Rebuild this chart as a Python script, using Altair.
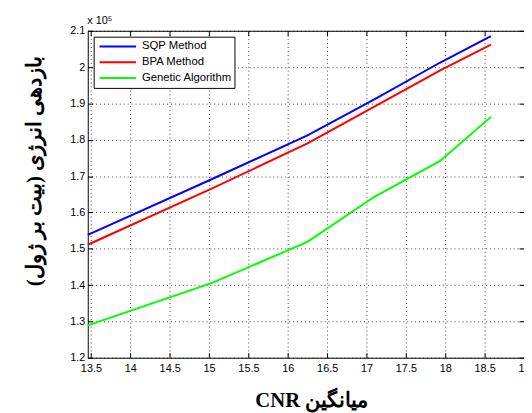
import altair as alt
import pandas as pd

# ---- data (y in units of 10^5) ----
cnr = [13.46, 15.04, 16.25, 17.10, 17.93, 18.58]
sqp = [1.538, 1.692, 1.812, 1.911, 2.012, 2.085]
bpa = [1.511, 1.666, 1.790, 1.891, 1.990, 2.062]
ga = [1.289, 1.406, 1.519, 1.643, 1.741, 1.863]

series_names = ["SQP Method", "BPA Method", "Genetic Algorithm"]
series_colors = ["#0000FF", "#FF0000", "#00FF00"]

x_ticks = [13.5, 14, 14.5, 15, 15.5, 16, 16.5, 17, 17.5, 18, 18.5, 19]
y_ticks = [1.2, 1.3, 1.4, 1.5, 1.6, 1.7, 1.8, 1.9, 2.0, 2.1]
x_domain = [13.46, 19.0]
y_domain = [1.2, 2.1]

x_title = "CNR میانگین"
y_title = "بازدهی انرژی (بیت بر ژول)"
scale_note = "x 10⁵"

rows = []
for name, vals in zip(series_names, [sqp, bpa, ga]):
    for xv, yv in zip(cnr, vals):
        rows.append({"cnr": xv, "value": yv, "series": name})
df = pd.DataFrame(rows)

LABEL_FONT = "Liberation Sans"
TITLE_FONT = "Liberation Serif"

xscale = alt.Scale(domain=x_domain, nice=False, zero=False)
yscale = alt.Scale(domain=y_domain, nice=False, zero=False)

common_axis = dict(
    offset=-5, tickSize=5, domain=False, tickColor="#000", tickWidth=1,
    labelFlush=False, labelOverlap=False,
)

main = alt.Chart(df).mark_line(strokeWidth=2).encode(
    x=alt.X(
        "cnr:Q", scale=xscale,
        axis=alt.Axis(
            orient="bottom", values=x_ticks, format=".2~f",
            grid=True, gridDash=[1, 3], gridColor="#000", gridOpacity=0.75, gridWidth=1,
            labelFont=LABEL_FONT, labelFontSize=11, labelColor="#000", labelPadding=5,
            title=x_title, titleFont=TITLE_FONT, titleFontSize=21, titleFontWeight="bold",
            titleColor="#000", titleX=227, titleY=55, titleAlign="center",
            titleBaseline="alphabetic", **common_axis,
        ),
    ),
    y=alt.Y(
        "value:Q", scale=yscale,
        axis=alt.Axis(
            orient="left", values=y_ticks, format=".2~f",
            grid=True, gridDash=[1, 3], gridColor="#000", gridOpacity=0.75, gridWidth=1,
            labelFont=LABEL_FONT, labelFontSize=11, labelColor="#000", labelPadding=3,
            title=y_title, titleFont=TITLE_FONT, titleFontSize=21, titleFontWeight="bold",
            titleColor="#000", titleAngle=270, titleX=-59, titleY=142,
            titleAlign="center", titleBaseline="middle", **common_axis,
        ),
    ),
    color=alt.Color(
        "series:N",
        scale=alt.Scale(domain=series_names, range=series_colors),
        legend=alt.Legend(
            title=None, orient="top-left", offset=6, padding=2,
            strokeColor="#000", fillColor="#fff", cornerRadius=0,
            symbolType="stroke", symbolSize=1369, symbolStrokeWidth=2,
            symbolOffset=3, clipHeight=16, rowPadding=0, labelOffset=5,
            labelFont=LABEL_FONT, labelFontSize=11.5, labelColor="#000",
        ),
    ),
)

frame = alt.Chart(df).mark_line(opacity=0).encode(
    x=alt.X(
        "cnr:Q", scale=xscale,
        axis=alt.Axis(orient="top", values=x_ticks, grid=False, labels=False,
                      title=None, **common_axis),
    ),
    y=alt.Y(
        "value:Q", scale=yscale,
        axis=alt.Axis(orient="right", values=y_ticks, grid=False, labels=False,
                      title=scale_note, titleAngle=0, titleX=-439, titleY=-5,
                      titleAlign="left", titleBaseline="bottom",
                      titleFont=LABEL_FONT, titleFontSize=11, titleFontWeight="normal",
                      titleColor="#000", **common_axis),
    ),
    detail="series:N",
)

chart = alt.layer(main, frame).resolve_axis(
    x="independent", y="independent"
).properties(
    width=443,
    height=332,
    autosize=alt.AutoSizeParams(type="none"),
    padding={"left": 81, "top": 20, "right": 0, "bottom": 53},
    background="#ffffff",
).configure_view(stroke="#000", strokeWidth=1)

chart.save("out.html", embed_options={"renderer": "svg", "actions": False})
